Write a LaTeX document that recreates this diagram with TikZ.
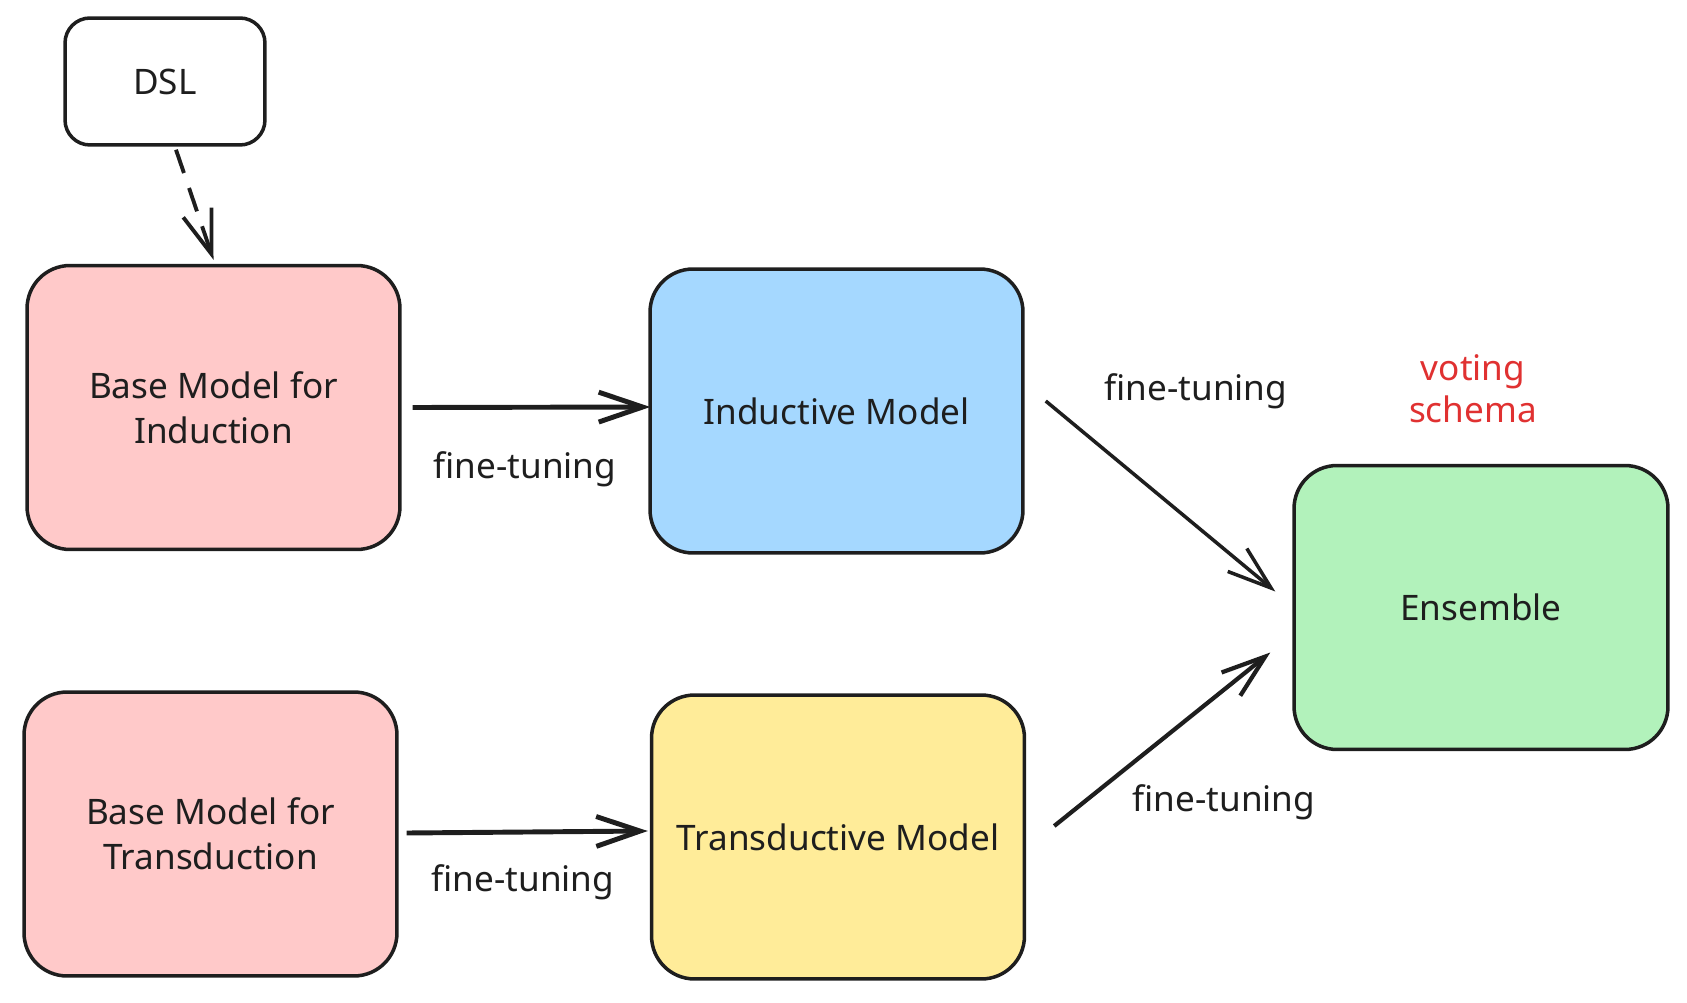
\documentclass[tikz,border=0pt]{standalone}
\usepackage{fontspec}
\setmainfont{Noto Sans}
\usetikzlibrary{arrows.meta,calc}
\definecolor{ink}{HTML}{1E1E1E}
\definecolor{pinkfill}{HTML}{FFC9C9}
\definecolor{bluefill}{HTML}{A5D8FF}
\definecolor{yellowfill}{HTML}{FFEC99}
\definecolor{greenfill}{HTML}{B2F2BB}
\definecolor{votered}{HTML}{E03131}
\begin{document}
\begin{tikzpicture}[x=0.02cm, y=-0.02cm,
    box/.style={draw=ink, line width=2pt, rounded corners=0.86cm, minimum width=7.46cm, minimum height=5.68cm, inner sep=0pt, align=center, text=ink, font=\fontsize{20}{25.5}\selectfont},
    lbl/.style={text=ink, font=\fontsize{20}{25.5}\selectfont},
    arr/.style={draw=ink, line width=2pt, -{Straight Barb[length=25pt, width=17pt]}}]
    % Cadre de l'image
    \useasboundingbox (0, 0) rectangle (1687, 1003);

    % Boite DSL
    \node[draw=ink, line width=2pt, rounded corners=0.5cm, minimum width=4cm, minimum height=2.54cm, text=ink, font=\fontsize{20}{25.5}\selectfont] (dsl) at (165, 81.5) {DSL};

    % Modeles de base (en rose)
    \node[box, fill=pinkfill] (baseind) at (213.5, 407.5) {Base Model for\\Induction};
    \node[box, fill=pinkfill] (basetrans) at (210.5, 834) {Base Model for\\Transduction};

    % Modeles fine-tunes
    \node[box, fill=bluefill] (induct) at (836.5, 411) {Inductive Model};
    \node[box, fill=yellowfill] (transduct) at (838, 837) {Transductive Model};

    % Ensemble (en vert)
    \node[box, fill=greenfill, minimum width=7.48cm] (ensemble) at (1481, 607.5) {Ensemble};
    \node[align=center, text=votered, font=\fontsize{20}{24}\selectfont] (voting) at (1473, 389) {voting\\schema};

    % Fleche pointillee DSL -> base induction
    \draw[arr, line width=2.2pt, dash pattern=on 14pt off 9pt] ($(dsl.south)+(11, 3)$) -- ($(baseind.north)+(0, -4)$);

    % Fleches horizontales
    \draw[arr, line width=2.8pt] ($(baseind.east)+(11, 0)$) -- ($(induct.west)+(2, -4)$);
    \draw[arr, line width=2.8pt] ($(basetrans.east)+(8, -1)$) -- ($(transduct.west)+(-2, -6)$);

    % Fleches diagonales vers l'ensemble
    \draw[arr, line width=2pt] ($(induct.east)+(21, -10)$) -- ($(ensemble.west)+(-17, -16)$);
    \draw[arr, line width=2.4pt] ($(transduct.east)+(28, -11)$) -- ($(ensemble.west)+(-22, 45)$);

    % Etiquettes fine-tuning
    \node[lbl] (ft1) at (525, 469) {fine-tuning};
    \node[lbl] (ft2) at (523, 882) {fine-tuning};
    \node[lbl] (ft3) at (1196, 391) {fine-tuning};
    \node[lbl] (ft4) at (1224, 802) {fine-tuning};

\end{tikzpicture}
\end{document}
